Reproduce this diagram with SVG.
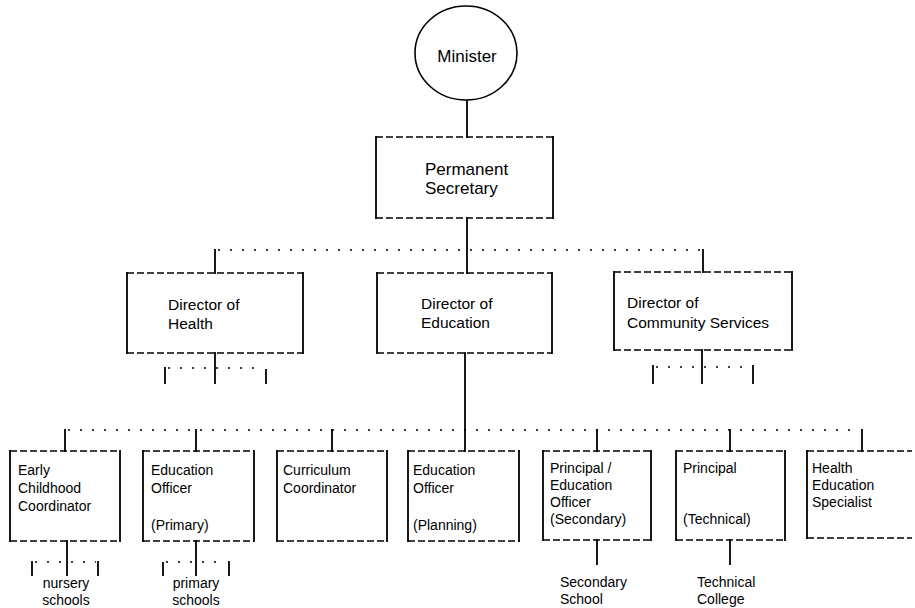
<svg xmlns="http://www.w3.org/2000/svg" width="915" height="608" viewBox="0 0 915 608">
  <style>
    .bg { fill: #ffffff; }
    .v { stroke: #000; stroke-width: 1.8; fill: none; stroke-linecap: square; }
    .edge { stroke: #000; stroke-width: 1.4; fill: none; stroke-dasharray: 7 3; }
    .dots { stroke: #000; stroke-width: 1.4; fill: none; stroke-dasharray: 2 10; }
    .ring { stroke: #000; stroke-width: 1.6; fill: #fff; }
    text { font-family: "Liberation Sans", Arial, sans-serif; fill: #000; }
    .big { font-size: 17px; }
    .mid { font-size: 15.5px; }
    .small { font-size: 14px; }
    .c { text-anchor: middle; }
  </style>
  <rect class="bg" x="0" y="0" width="915" height="608"/>

  <!-- connectors -->
  <g id="connectors">
    <line class="v" x1="467" y1="100" x2="467" y2="137"/>
    <line class="v" x1="467" y1="218" x2="467" y2="273"/>
    <line class="dots" x1="218" y1="250" x2="700" y2="250"/>
    <line class="v" x1="215" y1="250" x2="215" y2="273"/>
    <line class="v" x1="703" y1="250" x2="703" y2="272"/>

    <!-- under Director of Health -->
    <line class="v" x1="215" y1="353" x2="215" y2="383"/>
    <line class="dots" x1="168" y1="368" x2="264" y2="368"/>
    <line class="v" x1="165" y1="368" x2="165" y2="383"/>
    <line class="v" x1="266" y1="370" x2="266" y2="383"/>

    <!-- under Director of Community Services -->
    <line class="v" x1="702" y1="350" x2="702" y2="383"/>
    <line class="dots" x1="656" y1="367" x2="750" y2="367"/>
    <line class="v" x1="653" y1="366" x2="653" y2="383"/>
    <line class="v" x1="753" y1="366" x2="753" y2="383"/>

    <!-- Director of Education to the officer row -->
    <line class="v" x1="465" y1="353" x2="465" y2="451"/>
    <line class="dots" x1="68" y1="430" x2="860" y2="430"/>
    <line class="v" x1="65" y1="430" x2="65" y2="451"/>
    <line class="v" x1="196" y1="430" x2="196" y2="451"/>
    <line class="v" x1="332" y1="430" x2="332" y2="451"/>
    <line class="v" x1="597" y1="430" x2="597" y2="451"/>
    <line class="v" x1="730" y1="430" x2="730" y2="451"/>
    <line class="v" x1="862" y1="430" x2="862" y2="451"/>

    <!-- school links -->
    <line class="v" x1="67" y1="541" x2="67" y2="575"/>
    <line class="dots" x1="35" y1="562" x2="96" y2="562"/>
    <line class="v" x1="32" y1="562" x2="32" y2="575"/>
    <line class="v" x1="98" y1="562" x2="98" y2="575"/>

    <line class="v" x1="196" y1="541" x2="196" y2="575"/>
    <line class="dots" x1="166" y1="562" x2="226" y2="562"/>
    <line class="v" x1="163" y1="563" x2="163" y2="575"/>
    <line class="v" x1="229" y1="562" x2="229" y2="575"/>

    <line class="v" x1="597" y1="540" x2="597" y2="564"/>
    <line class="v" x1="730" y1="540" x2="730" y2="564"/>
  </g>

  <!-- Minister -->
  <g id="minister">
    <ellipse class="ring" cx="466" cy="53" rx="51" ry="47"/>
    <text class="big c" x="467" y="62">Minister</text>
  </g>

  <!-- Permanent Secretary -->
  <g id="permanent-secretary">
    <line class="edge" x1="376" y1="137" x2="553" y2="137"/>
    <line class="edge" x1="376" y1="218" x2="553" y2="218"/>
    <line class="v" x1="376" y1="137" x2="376" y2="218"/>
    <line class="v" x1="553" y1="137" x2="553" y2="218"/>
    <text class="big" x="425" y="175">Permanent</text>
    <text class="big" x="425" y="194">Secretary</text>
  </g>

  <!-- Directors -->
  <g id="director-health">
    <line class="edge" x1="127" y1="273" x2="303" y2="273"/>
    <line class="edge" x1="127" y1="353" x2="303" y2="353"/>
    <line class="v" x1="127" y1="273" x2="127" y2="353"/>
    <line class="v" x1="303" y1="273" x2="303" y2="353"/>
    <text class="mid" x="168" y="310">Director of</text>
    <text class="mid" x="168" y="329">Health</text>
  </g>

  <g id="director-education">
    <line class="edge" x1="377" y1="273" x2="552" y2="273"/>
    <line class="edge" x1="377" y1="353" x2="552" y2="353"/>
    <line class="v" x1="377" y1="273" x2="377" y2="353"/>
    <line class="v" x1="552" y1="273" x2="552" y2="353"/>
    <text class="mid" x="421" y="309">Director of</text>
    <text class="mid" x="421" y="328">Education</text>
  </g>

  <g id="director-community">
    <line class="edge" x1="614" y1="272" x2="792" y2="272"/>
    <line class="edge" x1="614" y1="350" x2="792" y2="350"/>
    <line class="v" x1="614" y1="272" x2="614" y2="350"/>
    <line class="v" x1="792" y1="272" x2="792" y2="350"/>
    <text class="mid" x="627" y="308">Director of</text>
    <text class="mid" x="627" y="328">Community Services</text>
  </g>

  <!-- Officer row -->
  <g id="early-childhood">
    <line class="edge" x1="10" y1="451" x2="120" y2="451"/>
    <line class="edge" x1="10" y1="541" x2="120" y2="541"/>
    <line class="v" x1="10" y1="451" x2="10" y2="541"/>
    <line class="v" x1="120" y1="451" x2="120" y2="541"/>
    <text class="small" x="18" y="475">Early</text>
    <text class="small" x="18" y="493">Childhood</text>
    <text class="small" x="18" y="511">Coordinator</text>
  </g>

  <g id="education-officer-primary">
    <line class="edge" x1="143" y1="451" x2="254" y2="451"/>
    <line class="edge" x1="143" y1="541" x2="254" y2="541"/>
    <line class="v" x1="143" y1="451" x2="143" y2="541"/>
    <line class="v" x1="254" y1="451" x2="254" y2="541"/>
    <text class="small" x="151" y="475">Education</text>
    <text class="small" x="151" y="493">Officer</text>
    <text class="small" x="151" y="530">(Primary)</text>
  </g>

  <g id="curriculum-coordinator">
    <line class="edge" x1="277" y1="451" x2="387" y2="451"/>
    <line class="edge" x1="277" y1="541" x2="387" y2="541"/>
    <line class="v" x1="277" y1="451" x2="277" y2="541"/>
    <line class="v" x1="387" y1="451" x2="387" y2="541"/>
    <text class="small" x="283" y="475">Curriculum</text>
    <text class="small" x="283" y="493">Coordinator</text>
  </g>

  <g id="education-officer-planning">
    <line class="edge" x1="408" y1="451" x2="519" y2="451"/>
    <line class="edge" x1="408" y1="541" x2="519" y2="541"/>
    <line class="v" x1="408" y1="451" x2="408" y2="541"/>
    <line class="v" x1="519" y1="451" x2="519" y2="541"/>
    <text class="small" x="413" y="475">Education</text>
    <text class="small" x="413" y="493">Officer</text>
    <text class="small" x="413" y="530">(Planning)</text>
  </g>

  <g id="principal-secondary">
    <line class="edge" x1="543" y1="451" x2="651" y2="451"/>
    <line class="edge" x1="543" y1="540" x2="651" y2="540"/>
    <line class="v" x1="543" y1="451" x2="543" y2="540"/>
    <line class="v" x1="651" y1="451" x2="651" y2="540"/>
    <text class="small" x="550" y="473">Principal /</text>
    <text class="small" x="550" y="490">Education</text>
    <text class="small" x="550" y="507">Officer</text>
    <text class="small" x="550" y="524">(Secondary)</text>
  </g>

  <g id="principal-technical">
    <line class="edge" x1="676" y1="451" x2="785" y2="451"/>
    <line class="edge" x1="676" y1="540" x2="785" y2="540"/>
    <line class="v" x1="676" y1="451" x2="676" y2="540"/>
    <line class="v" x1="785" y1="451" x2="785" y2="540"/>
    <text class="small" x="683" y="473">Principal</text>
    <text class="small" x="683" y="524">(Technical)</text>
  </g>

  <g id="health-education-specialist">
    <line class="edge" x1="807" y1="451" x2="912" y2="451"/>
    <line class="edge" x1="807" y1="538" x2="912" y2="538"/>
    <line class="v" x1="807" y1="451" x2="807" y2="538"/>
    <text class="small" x="812" y="473">Health</text>
    <text class="small" x="812" y="490">Education</text>
    <text class="small" x="812" y="507">Specialist</text>
  </g>

  <!-- Schools -->
  <g id="nursery-schools">
    <text class="small c" x="66" y="588">nursery</text>
    <text class="small c" x="66" y="605">schools</text>
  </g>
  <g id="primary-schools">
    <text class="small c" x="196" y="588">primary</text>
    <text class="small c" x="196" y="605">schools</text>
  </g>
  <g id="secondary-school">
    <text class="small" x="560" y="587">Secondary</text>
    <text class="small" x="560" y="604">School</text>
  </g>
  <g id="technical-college">
    <text class="small" x="697" y="587">Technical</text>
    <text class="small" x="697" y="604">College</text>
  </g>
</svg>
